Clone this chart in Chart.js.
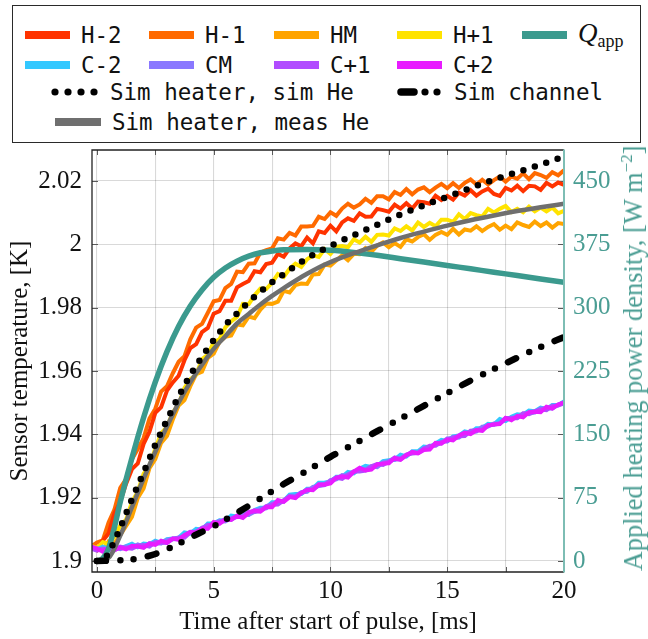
<!DOCTYPE html>
<html><head><meta charset="utf-8">
<script src="https://cdn.jsdelivr.net/npm/chart.js@4.4.1/dist/chart.umd.min.js"></script>
<style>
html,body{margin:0;padding:0;background:#fff;}
#wrap{position:relative;width:648px;height:639px;overflow:hidden;background:#fff;}
#chart{position:absolute;left:0;top:0;}
#legend{position:absolute;left:12px;top:5px;width:629px;height:138px;border:1.3px solid #2a2a2a;box-sizing:border-box;background:#fff;}
.item{position:absolute;display:flex;align-items:center;height:30px;font-family:"DejaVu Sans Mono",monospace;font-size:22.5px;color:#111;white-space:nowrap;}
.sw{display:inline-block;width:45px;height:8px;margin-right:11px;}
.sym{display:inline-block;margin-right:11px;}
.q{font-family:"Liberation Serif",serif;font-size:27px;}
.q i{font-style:italic;}
.q sub{font-size:18px;vertical-align:-5px;}
#rtitle{position:absolute;left:633px;top:358px;transform:translate(-50%,-50%) rotate(-90deg);font-family:"Liberation Serif",serif;font-size:26.5px;color:#4a9d93;white-space:nowrap;}
#rtitle sup{font-size:17px;vertical-align:10px;}
</style>
</head><body>
<div id="wrap">
<canvas id="chart" width="648" height="639"></canvas>
<div id="legend"></div>
<div id="rtitle">Applied heating power density, [W m<sup>−2</sup>]</div>
</div>
<script>
// ---------------- DATA ----------------
const T_MEAS = [-0.25,0,0.25,0.5,0.75,1,1.25,1.5,1.75,2,2.25,2.5,2.75,3,3.25,3.5,3.75,4,4.25,4.5,4.75,5,5.25,5.5,5.75,6,6.25,6.5,6.75,7,7.25,7.5,7.75,8,8.25,8.5,8.75,9,9.25,9.5,9.75,10,10.25,10.5,10.75,11,11.25,11.5,11.75,12,12.25,12.5,12.75,13,13.25,13.5,13.75,14,14.25,14.5,14.75,15,15.25,15.5,15.75,16,16.25,16.5,16.75,17,17.25,17.5,17.75,18,18.25,18.5,18.75,19,19.25,19.5,19.75,20];

const H_M2 = [1.9042,1.9034,1.9064,1.9087,1.9151,1.9187,1.9244,1.9290,1.9308,1.9370,1.9408,1.9468,1.9486,1.9538,1.9564,1.9585,1.9634,1.9672,1.9685,1.9723,1.9736,1.9781,1.9789,1.9822,1.9822,1.9864,1.9875,1.9884,1.9915,1.9912,1.9938,1.9942,1.9970,1.9961,1.9987,2.0003,1.9994,2.0021,2.0003,2.0041,2.0036,2.0059,2.0041,2.0069,2.0082,2.0074,2.0098,2.0087,2.0088,2.0112,2.0108,2.0103,2.0125,2.0113,2.0130,2.0113,2.0135,2.0133,2.0128,2.0153,2.0140,2.0153,2.0141,2.0163,2.0154,2.0171,2.0154,2.0167,2.0176,2.0159,2.0153,2.0178,2.0170,2.0185,2.0168,2.0185,2.0183,2.0172,2.0194,2.0183,2.0195,2.0188];
const H_M1 = [1.9046,1.9058,1.9065,1.9122,1.9162,1.9231,1.9259,1.9321,1.9354,1.9388,1.9450,1.9481,1.9535,1.9552,1.9593,1.9629,1.9647,1.9700,1.9737,1.9749,1.9784,1.9820,1.9824,1.9862,1.9875,1.9914,1.9912,1.9939,1.9940,1.9974,1.9982,1.9987,2.0019,2.0015,2.0036,2.0028,2.0056,2.0056,2.0058,2.0087,2.0080,2.0101,2.0090,2.0113,2.0128,2.0116,2.0126,2.0144,2.0131,2.0152,2.0152,2.0142,2.0165,2.0156,2.0175,2.0158,2.0173,2.0180,2.0165,2.0179,2.0191,2.0177,2.0193,2.0178,2.0194,2.0205,2.0189,2.0204,2.0189,2.0203,2.0214,2.0198,2.0214,2.0207,2.0224,2.0206,2.0225,2.0219,2.0210,2.0228,2.0218,2.0234];
const H_MID = [1.9038,1.9045,1.9033,1.9062,1.9056,1.9082,1.9111,1.9139,1.9199,1.9229,1.9293,1.9322,1.9373,1.9395,1.9447,1.9491,1.9508,1.9552,1.9590,1.9598,1.9641,1.9655,1.9692,1.9708,1.9712,1.9747,1.9744,1.9772,1.9767,1.9794,1.9813,1.9812,1.9819,1.9853,1.9848,1.9871,1.9876,1.9875,1.9905,1.9906,1.9936,1.9933,1.9949,1.9965,1.9950,1.9970,1.9969,1.9988,1.9976,1.9996,2.0006,1.9991,2.0004,1.9992,2.0016,2.0009,2.0023,2.0032,2.0014,2.0030,2.0039,2.0030,2.0049,2.0031,2.0047,2.0043,2.0057,2.0042,2.0055,2.0064,2.0046,2.0059,2.0048,2.0069,2.0061,2.0055,2.0072,2.0058,2.0069,2.0053,2.0067,2.0064];
const H_P1 = [1.9048,1.9041,1.9060,1.9053,1.9078,1.9112,1.9131,1.9186,1.9220,1.9276,1.9300,1.9355,1.9403,1.9424,1.9469,1.9495,1.9547,1.9574,1.9588,1.9637,1.9652,1.9691,1.9700,1.9738,1.9757,1.9771,1.9812,1.9811,1.9839,1.9860,1.9859,1.9879,1.9906,1.9897,1.9923,1.9939,1.9929,1.9953,1.9965,1.9960,1.9985,1.9970,1.9992,1.9995,1.9991,2.0016,2.0006,2.0024,2.0008,2.0030,2.0031,2.0028,2.0050,2.0042,2.0057,2.0044,2.0069,2.0055,2.0068,2.0057,2.0078,2.0078,2.0071,2.0095,2.0080,2.0099,2.0092,2.0088,2.0112,2.0101,2.0112,2.0121,2.0102,2.0112,2.0101,2.0119,2.0104,2.0116,2.0104,2.0116,2.0098,2.0106];
const C_M2 = [1.9044,1.9036,1.9045,1.9039,1.9046,1.9040,1.9047,1.9054,1.9044,1.9055,1.9053,1.9064,1.9057,1.9069,1.9071,1.9073,1.9090,1.9087,1.9101,1.9099,1.9118,1.9118,1.9128,1.9127,1.9143,1.9140,1.9152,1.9147,1.9161,1.9168,1.9169,1.9185,1.9186,1.9190,1.9209,1.9211,1.9212,1.9228,1.9229,1.9247,1.9248,1.9250,1.9266,1.9266,1.9281,1.9277,1.9291,1.9300,1.9297,1.9300,1.9315,1.9318,1.9320,1.9335,1.9330,1.9346,1.9346,1.9361,1.9359,1.9371,1.9382,1.9378,1.9393,1.9396,1.9409,1.9405,1.9419,1.9420,1.9433,1.9431,1.9448,1.9442,1.9455,1.9463,1.9461,1.9475,1.9473,1.9484,1.9480,1.9492,1.9492,1.9504];
const C_MID = [1.9037,1.9040,1.9034,1.9039,1.9043,1.9038,1.9045,1.9043,1.9052,1.9045,1.9056,1.9056,1.9056,1.9066,1.9069,1.9070,1.9082,1.9092,1.9092,1.9105,1.9108,1.9118,1.9127,1.9125,1.9136,1.9139,1.9150,1.9146,1.9156,1.9165,1.9167,1.9181,1.9186,1.9188,1.9206,1.9205,1.9217,1.9219,1.9234,1.9237,1.9240,1.9255,1.9258,1.9271,1.9269,1.9281,1.9290,1.9289,1.9299,1.9297,1.9311,1.9315,1.9326,1.9324,1.9334,1.9343,1.9342,1.9356,1.9359,1.9369,1.9372,1.9387,1.9388,1.9390,1.9404,1.9408,1.9409,1.9424,1.9425,1.9434,1.9435,1.9451,1.9451,1.9453,1.9465,1.9468,1.9469,1.9481,1.9482,1.9482,1.9494,1.9500];
const C_P1 = [1.9040,1.9033,1.9039,1.9037,1.9034,1.9045,1.9041,1.9039,1.9048,1.9050,1.9046,1.9060,1.9058,1.9057,1.9070,1.9074,1.9074,1.9090,1.9092,1.9103,1.9114,1.9112,1.9123,1.9132,1.9130,1.9142,1.9139,1.9155,1.9155,1.9158,1.9173,1.9178,1.9179,1.9192,1.9204,1.9202,1.9214,1.9225,1.9226,1.9239,1.9242,1.9253,1.9263,1.9260,1.9273,1.9283,1.9283,1.9286,1.9299,1.9306,1.9304,1.9314,1.9322,1.9321,1.9336,1.9340,1.9341,1.9354,1.9364,1.9364,1.9376,1.9378,1.9391,1.9394,1.9395,1.9411,1.9413,1.9415,1.9428,1.9431,1.9434,1.9448,1.9452,1.9451,1.9466,1.9464,1.9472,1.9479,1.9477,1.9490,1.9491,1.9498];
const C_P2 = [1.9046,1.9039,1.9030,1.9042,1.9035,1.9043,1.9037,1.9048,1.9046,1.9042,1.9055,1.9051,1.9064,1.9058,1.9071,1.9067,1.9081,1.9091,1.9089,1.9102,1.9102,1.9123,1.9118,1.9131,1.9131,1.9143,1.9136,1.9152,1.9160,1.9156,1.9170,1.9170,1.9192,1.9187,1.9202,1.9199,1.9215,1.9225,1.9224,1.9242,1.9241,1.9245,1.9263,1.9267,1.9264,1.9282,1.9294,1.9286,1.9289,1.9305,1.9308,1.9309,1.9326,1.9320,1.9334,1.9344,1.9340,1.9351,1.9352,1.9373,1.9371,1.9384,1.9381,1.9396,1.9405,1.9401,1.9413,1.9411,1.9429,1.9431,1.9433,1.9452,1.9445,1.9458,1.9454,1.9470,1.9472,1.9470,1.9487,1.9482,1.9494,1.9501];

const T_SIM_HEATER = [0,0.3,0.6,1,1.5,2,2.5,3,3.5,4,4.5,5,5.5,6,6.5,7,7.5,8,9,10,11,12,13,14,15,16,17,18,19,20];
const SIM_HEATER_SIM_HE = [1.9,1.9005,1.904,1.9105,1.9195,1.928,1.9367,1.9445,1.952,1.9587,1.9645,1.9697,1.9745,1.9782,1.9818,1.985,1.988,1.9906,1.9956,1.9995,2.0029,2.0062,2.0094,2.0123,2.015,2.0178,2.0204,2.0228,2.0252,2.0277];

const T_MEAS_HE = [0,0.5,1,1.5,2,2.5,3,3.5,4,4.5,5,5.5,6,6.5,7,7.5,8,8.5,9,9.5,10,11,12,13,14,15,16,17,18,19,20];
const SIM_HEATER_MEAS_HE = [1.9,1.901,1.908,1.917,1.926,1.9345,1.9425,1.95,1.9565,1.962,1.967,1.971,1.975,1.978,1.981,1.9837,1.9862,1.9885,1.9907,1.9927,1.9944,1.9972,1.9997,2.002,2.004,2.0059,2.0076,2.0091,2.0105,2.0117,2.0128];

const T_CHANNEL = [0,1,1.5,2,2.5,3,3.5,4,4.5,5,6,7,8,9,10,11,12,13,14,15,16,17,18,19,20];
const SIM_CHANNEL = [1.9,1.9002,1.9005,1.9012,1.9022,1.9037,1.9055,1.9074,1.9092,1.911,1.9152,1.9197,1.9243,1.9285,1.9329,1.9369,1.941,1.945,1.949,1.953,1.957,1.9606,1.9642,1.9676,1.9707];

const T_Q = [0,0.25,0.5,0.75,1,1.5,2,2.5,3,3.5,4,4.5,5,5.5,6,6.5,7,7.5,8,9,10,11,12,13,14,15,16,17,18,19,20];
const Q_APP = [0,3,15,40,70,122,170,212,248,278,302,321,336,347,355,361,365,367,368.5,369,368,365.5,362,358,354,350,346,342,338,334,330];

const X_TICKS = [0,2.5,5,7.5,10,12.5,15,17.5,20];
const X_LABELED = [0,5,10,15,20];
const Y_TICKS = [1.9,1.92,1.94,1.96,1.98,2,2.02];
const Y1_TICKS = [0,75,150,225,300,375,450];

const X_RANGE = [-0.21, 20];
const T_RANGE = [1.89653, 2.02979];
// right axis shares the grid: 0 W/m2 at 1.9 K, 75 W/m2 per 0.02 K
const Q_PER_K = 75 / 0.02;
const Q_RANGE = [(T_RANGE[0]-1.9)*Q_PER_K, (T_RANGE[1]-1.9)*Q_PER_K];

// ---------------- STYLES ----------------
const COLORS = {
  'H-2':'#ff3300','H-1':'#ff6a00','HM':'#ffa400','H+1':'#ffe300',
  'C-2':'#33c8ff','CM':'#8a78ff','C+1':'#b14cff','C+2':'#e81cff',
  'Q':'#3b9a8e','gray':'#6f6f6f','black':'#000000'
};
const TEAL_TEXT = '#4a9d93';

const zip = (ts, vs) => ts.map((t,i)=>({x:t, y:vs[i]}));

const measured = [
  ['H-2',H_M2,11,4.0],['H-1',H_M1,12,4.0],['HM',H_MID,13,4.0],['H+1',H_P1,10,4.0],
  ['C-2',C_M2,9,4.2],['CM',C_MID,8,4.2],['C+1',C_P1,7,4.2],['C+2',C_P2,6,4.2]
];

const datasets = measured.map(([lab,vals,ord,w])=>({
  label: lab, data: zip(T_MEAS, vals), borderColor: COLORS[lab], borderWidth: w,
  pointRadius: 0, tension: 0, yAxisID: 'y', order: ord, borderJoinStyle: 'miter'
}));
datasets.push({label:'Q_app', data: zip(T_Q, Q_APP), borderColor: COLORS.Q, borderWidth: 5.5,
  pointRadius:0, cubicInterpolationMode:'monotone', yAxisID:'y1', order: 3});
datasets.push({label:'Sim heater, meas He', data: zip(T_MEAS_HE, SIM_HEATER_MEAS_HE), borderColor: COLORS.gray, borderWidth: 4.5,
  pointRadius:0, cubicInterpolationMode:'monotone', yAxisID:'y', order: 2});
datasets.push({label:'Sim heater, sim He', data: zip(T_SIM_HEATER, SIM_HEATER_SIM_HE), borderColor: COLORS.black, borderWidth: 6.5,
  borderDash:[0,12], borderCapStyle:'round', pointRadius:0, cubicInterpolationMode:'monotone', yAxisID:'y', order: 1});
datasets.push({label:'Sim channel', data: zip(T_CHANNEL, SIM_CHANNEL), borderColor: COLORS.black, borderWidth: 6.5,
  borderDash:[9,14.5,0,13.2,0,14.5], borderCapStyle:'round', pointRadius:0, cubicInterpolationMode:'monotone', yAxisID:'y', order: 0});

const SERIF = '"Liberation Serif", "Times New Roman", serif';

const framePlugin = {
  id: 'frame',
  beforeDatasetsDraw(chart){
    const {ctx, chartArea:{left,right,top,bottom}, scales:{x,y}} = chart;
    ctx.save();
    ctx.strokeStyle = '#5a5a5a'; ctx.lineWidth = 1;
    ctx.beginPath();
    X_TICKS.forEach(v=>{ const px = Math.round(x.getPixelForValue(v))+0.5;
      ctx.moveTo(px,bottom); ctx.lineTo(px,bottom-5); ctx.moveTo(px,top); ctx.lineTo(px,top+5); });
    Y_TICKS.forEach(v=>{ const py = Math.round(y.getPixelForValue(v))+0.5;
      ctx.moveTo(left,py); ctx.lineTo(left+6,py); ctx.moveTo(right,py); ctx.lineTo(right-6,py); });
    ctx.stroke();
    ctx.restore();
  },
  afterDatasetsDraw(chart){
    const {ctx, chartArea:{left,right,top,bottom}} = chart;
    ctx.save();
    ctx.strokeStyle = '#222'; ctx.lineWidth = 1.3;
    ctx.beginPath(); ctx.moveTo(right,top); ctx.lineTo(left,top); ctx.lineTo(left,bottom); ctx.lineTo(right,bottom); ctx.stroke();
    ctx.strokeStyle = '#7dbdb4'; ctx.lineWidth = 2;
    ctx.beginPath(); ctx.moveTo(right,top-0.5); ctx.lineTo(right,bottom+0.5); ctx.stroke();
    ctx.restore();
  }
};

const gridStyle = {color:'rgba(0,0,0,0.15)', lineWidth:1.1, drawTicks:false};

new Chart(document.getElementById('chart'), {
  type: 'line',
  data: {datasets},
  options: {
    responsive:false, animation:false, devicePixelRatio:1,
    layout:{padding:{top:150,left:0,right:0,bottom:0}},
    plugins:{legend:{display:false}, tooltip:{enabled:false}},
    elements:{point:{radius:0}},
    scales:{
      x:{type:'linear', min:X_RANGE[0], max:X_RANGE[1], grid:gridStyle, border:{display:false},
        afterBuildTicks(s){ s.ticks = X_TICKS.map(v=>({value:v})); },
        afterFit(s){ s.height = 67; },
        ticks:{autoSkip:false, maxRotation:0, padding:4, color:'#111', font:{family:SERIF, size:25},
          callback:(v)=> X_LABELED.includes(v) ? String(v) : ''},
        title:{display:true, text:'Time after start of pulse, [ms]', color:'#111', font:{family:SERIF, size:25}, padding:{top:0,bottom:2}}
      },
      y:{type:'linear', position:'left', min:T_RANGE[0], max:T_RANGE[1], grid:gridStyle, border:{display:false},
        afterBuildTicks(s){ s.ticks = Y_TICKS.map(v=>({value:v})); },
        afterFit(s){ s.width = 92; },
        ticks:{autoSkip:false, padding:10, color:'#111', font:{family:SERIF, size:25},
          callback:(v)=> String(+v.toFixed(2))},
        title:{display:true, text:'Sensor temperature, [K]', color:'#111', font:{family:SERIF, size:25}, padding:{top:5,bottom:0}}
      },
      y1:{type:'linear', position:'right', min:Q_RANGE[0], max:Q_RANGE[1], grid:{display:false, drawTicks:false}, border:{display:false},
        afterBuildTicks(s){ s.ticks = Y1_TICKS.map(v=>({value:v})); },
        afterFit(s){ s.width = 84; },
        ticks:{autoSkip:false, padding:9, color:TEAL_TEXT, font:{family:SERIF, size:25}, callback:(v)=>String(v)}
      }
    }
  },
  plugins:[framePlugin]
});

// ---------------- LEGEND (HTML) ----------------
const LEGEND_ROWS = [
  ['H-2','H-1','HM','H+1','Q'],
  ['C-2','CM','C+1','C+2']
];
const COL_X = [12,136,261,384,509];
const ROW_Y = [29,59,86,116];
const legend = document.getElementById('legend');
function addItem(x, rowCenter, symbolHtml, labelHtml, cls){
  const d = document.createElement('div');
  d.className = 'item';
  d.style.left = x + 'px';
  d.style.top = (rowCenter - 15) + 'px';
  d.innerHTML = symbolHtml + '<span class="' + (cls||'') + '">' + labelHtml + '</span>';
  legend.appendChild(d);
}
LEGEND_ROWS.forEach((row, r)=>{
  row.forEach((lab, c)=>{
    const sw = '<span class="sw" style="background:' + COLORS[lab] + '"></span>';
    if (lab === 'Q') addItem(COL_X[c], ROW_Y[r], sw, '<i>Q</i><sub>app</sub>', 'q');
    else addItem(COL_X[c], ROW_Y[r], sw, lab);
  });
});
const dots = '<svg class="sym" width="48" height="10"><g fill="#000"><circle cx="4" cy="5" r="3.6"/><circle cx="17" cy="5" r="3.6"/><circle cx="30" cy="5" r="3.6"/><circle cx="43" cy="5" r="3.6"/></g></svg>';
const dashdot = '<svg class="sym" width="46" height="10"><line x1="4" y1="5" x2="17" y2="5" stroke="#000" stroke-width="7.5" stroke-linecap="round"/><g fill="#000"><circle cx="28" cy="5" r="3.6"/><circle cx="40" cy="5" r="3.6"/></g></svg>';
addItem(38, ROW_Y[2], dots, 'Sim heater, sim He');
addItem(384, ROW_Y[2], dashdot, 'Sim channel');
addItem(42, ROW_Y[3], '<span class="sw" style="background:' + COLORS.gray + ';width:46px"></span>', 'Sim heater, meas He');
</script>
</body></html>
